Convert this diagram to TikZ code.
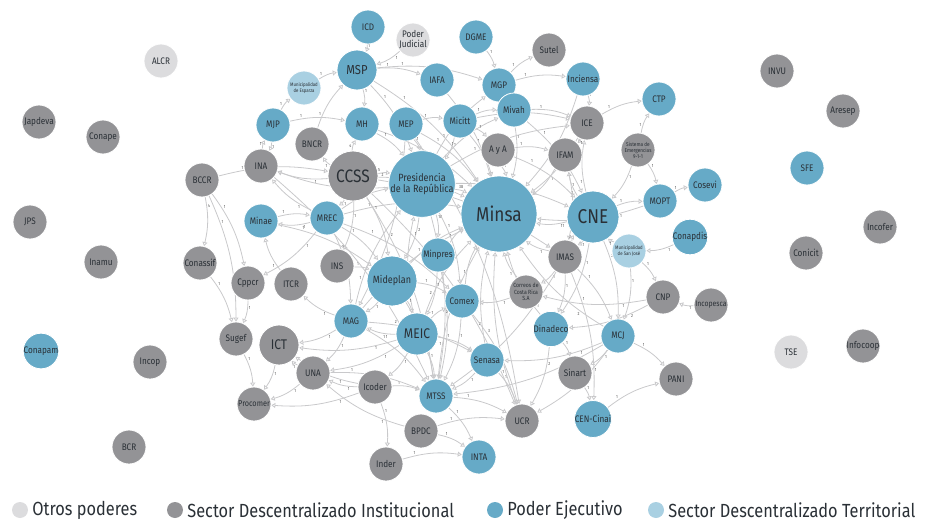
\documentclass[tikz,border=0pt]{standalone}
\usepackage{fontspec}
\setmainfont{Fira Sans}[FakeStretch=0.86]
\usepackage{xcolor}
\usetikzlibrary{arrows.meta}
\usetikzlibrary{positioning}
\usetikzlibrary{backgrounds}

\definecolor{ejecblue}{HTML}{66AAC7}
\definecolor{descgray}{HTML}{939396}
\definecolor{otrosgray}{HTML}{DCDCDE}
\definecolor{terrblue}{HTML}{A9D0E2}
\definecolor{nodetext}{HTML}{2A3036}
\definecolor{linkgray}{HTML}{C9C9CB}
\definecolor{wtgray}{HTML}{505050}

\begin{document}
\begin{tikzpicture}[x=1pt,y=-1pt]
	%\draw[help lines,step=50] (0,0) grid (938,522);
	\useasboundingbox (0,0) rectangle (938,522);

	\tikzstyle{org} = [circle,inner sep=0pt,minimum size=34pt,draw=white,line width=0.8pt,text=nodetext,font=\fontsize{9.5}{10}\selectfont,align=center]
	\tikzstyle{ejec} = [org,fill=ejecblue]
	\tikzstyle{desc} = [org,fill=descgray]
	\tikzstyle{otros} = [org,fill=otrosgray]
	\tikzstyle{terr} = [org,fill=terrblue]
	\tikzstyle{tiny} = [font=\fontsize{5}{5.5}\selectfont]
	\tikzstyle{lnk} = [-{Triangle[open,length=4pt,width=5pt]},draw=linkgray,line width=0.8pt,bend left=12]
	\tikzstyle{wt} = [font=\fontsize{4.5}{5}\selectfont,text=wtgray,inner sep=0.6pt,pos=0.22,auto]
	\tikzstyle{lgdot} = [circle,inner sep=0pt,minimum size=16pt]
	\tikzstyle{lgtext} = [font=\fontsize{19}{21}\selectfont,text=nodetext,inner sep=0pt]

	% isolated organisations, left
	\node[otros] (alcr) at (161,61) {ALCR};
	\node[desc] (japdeva) at (39,122) {Japdeva};
	\node[desc] (conape) at (103,137) {Conape};
	\node[desc] (jps) at (30,222) {JPS};
	\node[desc] (inamu) at (101,262) {Inamu};
	\node[ejec] (conapam) at (41,351) {Conapam};
	\node[desc] (incop) at (150,362) {Incop};
	\node[desc] (bcr) at (129,447) {BCR};

	% isolated organisations, right
	\node[desc] (invu) at (777,71) {INVU};
	\node[desc] (aresep) at (843,111) {Aresep};
	\node[ejec] (sfe) at (807,168) {SFE};
	\node[desc] (incofer) at (880,227) {Incofer};
	\node[desc] (conicit) at (806,253) {Conicit};
	\node[otros] (tse) at (791,352) {TSE};
	\node[desc] (infocoop) at (863,346) {Infocoop};

	% network
	\node[ejec] (icd) at (368,27) {ICD};
	\node[otros] (pj) at (413,40) {Poder\\Judicial};
	\node[ejec] (dgme) at (476,37) {DGME};
	\node[desc] (sutel) at (549,50) {Sutel};
	\node[ejec,minimum size=40pt,font=\fontsize{13}{14}\selectfont] (msp) at (357,70) {MSP};
	\node[terr,tiny] (esparza) at (304,88) {Municipalidad\\de Esparza};
	\node[ejec] (iafa) at (437,80) {IAFA};
	\node[ejec] (mgp) at (499,85) {MGP};
	\node[ejec] (inciensa) at (583,79) {Inciensa};
	\node[ejec] (ctp) at (659,99) {CTP};
	\node[ejec] (mjp) at (273,125) {MJP};
	\node[ejec] (mh) at (362,124) {MH};
	\node[ejec] (mep) at (406,124) {MEP};
	\node[ejec] (micitt) at (460,121) {Micitt};
	\node[ejec] (mivah) at (514,110) {Mivah};
	\node[desc] (ice) at (587,123) {ICE};
	\node[desc] (bncr) at (312,144) {BNCR};
	\node[desc] (aya) at (498,150) {A y A};
	\node[desc] (ifam) at (565,155) {IFAM};
	\node[desc,font=\fontsize{5.5}{6}\selectfont] (sis) at (638,150) {Sistema de\\Emergencias\\9-1-1};
	\node[desc] (ina) at (261,166) {INA};
	\node[desc] (bccr) at (202,180) {BCCR};
	\node[desc,minimum size=50pt,font=\fontsize{18}{20}\selectfont] (ccss) at (353,176) {CCSS};
	\node[ejec,minimum size=66pt,font=\fontsize{10.5}{11}\selectfont] (pres) at (422,184) {Presidencia\\de la República};
	\node[ejec,minimum size=76pt,font=\fontsize{20}{22}\selectfont] (minsa) at (499,214) {Minsa};
	\node[ejec,minimum size=52pt,font=\fontsize{20}{22}\selectfont] (cne) at (593,217) {CNE};
	\node[ejec] (cosevi) at (705,185) {Cosevi};
	\node[ejec] (mopt) at (660,201) {MOPT};
	\node[ejec] (conapdis) at (690,237) {Conapdis};
	\node[terr,tiny] (sanjose) at (629,251) {Municipalidad\\de San José};
	\node[ejec] (minae) at (261,221) {Minae};
	\node[ejec] (mrec) at (327,218) {MREC};
	\node[ejec] (minpres) at (438,255) {Minpres};
	\node[desc] (imas) at (565,257) {IMAS};
	\node[desc] (conassif) at (200,263) {Conassif};
	\node[desc] (ins) at (337,266) {INS};
	\node[ejec,minimum size=50pt,font=\fontsize{10.5}{11}\selectfont] (mideplan) at (392,281) {Mideplan};
	\node[desc] (cppcr) at (248,283) {Cppcr};
	\node[desc] (itcr) at (291,284) {ITCR};
	\node[ejec] (comex) at (462,301) {Comex};
	\node[desc,font=\fontsize{6}{6.5}\selectfont] (correos) at (526,292) {Correos de\\Costa Rica\\S.A};
	\node[desc] (cnp) at (663,297) {CNP};
	\node[desc,font=\fontsize{8}{9}\selectfont] (incopesca) at (711,305) {Incopesca};
	\node[ejec] (mag) at (351,321) {MAG};
	\node[ejec,minimum size=42pt,font=\fontsize{14}{15}\selectfont] (meic) at (417,334) {MEIC};
	\node[ejec] (dinadeco) at (551,329) {Dinadeco};
	\node[ejec] (mcj) at (618,336) {MCJ};
	\node[desc] (sugef) at (236,339) {Sugef};
	\node[desc,minimum size=40pt,font=\fontsize{14}{15}\selectfont] (ict) at (279,345) {ICT};
	\node[ejec] (senasa) at (487,360) {Senasa};
	\node[desc] (sinart) at (575,373) {Sinart};
	\node[desc] (pani) at (676,379) {PANI};
	\node[desc] (una) at (313,373) {UNA};
	\node[desc] (icoder) at (375,387) {Icoder};
	\node[desc,font=\fontsize{8.5}{9}\selectfont] (procomer) at (254,404) {Procomer};
	\node[ejec] (mtss) at (436,396) {MTSS};
	\node[desc] (ucr) at (522,421) {UCR};
	\node[ejec] (cencinai) at (593,419) {CEN-Cinai};
	\node[desc] (bpdc) at (421,431) {BPDC};
	\node[desc] (inder) at (386,464) {Inder};
	\node[ejec] (inta) at (479,457) {INTA};

	% links between organisations
	\begin{pgfonlayer}{background}
	\foreach \a/\b/\w in {
		icd/msp/1, pj/msp/1, esparza/msp/1, mjp/esparza/1, dgme/mgp/1,
		mgp/sutel/1, mgp/inciensa/1, inciensa/ice/1, ice/ctp/1, sis/ctp/1,
		sis/mopt/1, sis/cne/1, mopt/cosevi/1, conapdis/sanjose/1, sanjose/cne/1,
		sanjose/cnp/1, incopesca/cnp/1, cnp/correos/1, cnp/dinadeco/2, mcj/sinart/1,
		mcj/pani/1, cencinai/pani/1, sinart/cencinai/1, dinadeco/sinart/1, mcj/senasa/1,
		mcj/mtss/1, senasa/ucr/1, mtss/ucr/1, mtss/inta/1, bpdc/inta/1,
		bpdc/una/1, icoder/procomer/1, una/procomer/1, ict/procomer/1, sugef/procomer/1,
		cppcr/sugef/1, bccr/conassif/4, bccr/sugef/1, bccr/cppcr/1, conassif/sugef/1,
		mjp/ina/1, ina/mjp/1, mjp/mh/1, msp/mh/1, bncr/msp/1,
		minae/mrec/1, mrec/minae/1, mrec/cppcr/1, mrec/ina/1, itcr/minae/1,
		una/ict/1, icoder/ict/1, mag/ict/1, mag/itcr/1, meic/ict/1,
		mag/una/1, meic/una/1, icoder/una/1, icoder/inder/1, bpdc/ucr/1,
		inder/inta/1, icoder/mtss/1, una/mtss/1,
		pres/minsa/38, cne/minsa/11, mideplan/minsa/1, imas/minsa/1,
		mep/minsa/1, micitt/minsa/1, mivah/minsa/1, ice/minsa/1, ifam/minsa/1,
		aya/minsa/1, comex/minsa/1, correos/minsa/1, meic/minsa/2, mtss/minsa/1,
		mag/minsa/1, minpres/minsa/1, mrec/minsa/1, mh/minsa/1, msp/minsa/1,
		inciensa/minsa/1, iafa/minsa/1, dinadeco/minsa/1, mcj/minsa/2, senasa/minsa/2,
		ucr/minsa/1, mopt/minsa/1,
		cne/mopt/1, cne/ice/1, cne/ifam/2, imas/cne/2, cne/mcj/2,
		cne/dinadeco/1, mivah/cne/1, aya/cne/1, pres/cne/2, cne/imas/1,
		pres/mideplan/2, pres/minpres/18, ccss/pres/5, mh/pres/1, mep/pres/1,
		msp/pres/1, mrec/pres/2, micitt/pres/1, mag/pres/1, meic/pres/1,
		pres/mivah/1, pres/mgp/1, pres/ice/1, pres/comex/1,
		mideplan/meic/1, mideplan/mag/1, mideplan/mtss/1, mideplan/comex/1, ins/mideplan/1,
		mrec/mideplan/1, ccss/mideplan/1,
		meic/mag/1, meic/mtss/1, meic/comex/1, meic/senasa/1, meic/icoder/1,
		mag/senasa/2, mag/mtss/1, comex/mtss/1, comex/ucr/3, senasa/mtss/1,
		ccss/mtss/2, ccss/mrec/1, ccss/ina/1, ccss/mh/4, ccss/bncr/1,
		ccss/ins/1, ccss/imas/1, ccss/ucr/1,
		msp/mgp/1, msp/iafa/1, mep/micitt/1, micitt/mivah/1, micitt/ice/1,
		mgp/mivah/1, mivah/ice/1, micitt/aya/1, mep/mag/1, mep/ucr/1,
		ice/ifam/1, aya/ifam/1, ifam/imas/1, imas/correos/1, imas/mcj/1,
		imas/dinadeco/1, imas/mtss/1, imas/cencinai/1, correos/comex/1, minpres/mtss/1,
		minpres/meic/1, mrec/mag/1, mrec/comex/1, ina/mtss/1, minae/mideplan/1,
		bccr/ccss/1, sanjose/mcj/1, mcj/ucr/1, dinadeco/ucr/2, pres/ina/1}
	{
		\draw (\a) edge [lnk] node[wt] {\w} (\b);
	}
	% these two pass behind other nodes: weight moved off them
	\draw (ccss) edge [lnk] node[wt,pos=0.04] {2} (minsa);
	\draw (pres) edge [lnk] node[wt,pos=0.6] {2} (mtss);
	\end{pgfonlayer}

	% legend
	\node[lgdot,fill=otrosgray] (lgotros) at (20,510) {};
	\node[lgtext,right=4pt of lgotros] (txotros) {Otros poderes};
	\node[lgdot,fill=descgray] (lgdesc) at (175,510) {};
	\node[lgtext,right=4pt of lgdesc] (txdesc) {Sector Descentralizado Institucional};
	\node[lgdot,fill=ejecblue] (lgejec) at (495,510) {};
	\node[lgtext,right=4pt of lgejec] (txejec) {Poder Ejecutivo};
	\node[lgdot,fill=terrblue] (lgterr) at (656,510) {};
	\node[lgtext,right=4pt of lgterr] (txterr) {Sector Descentralizado Territorial};

\end{tikzpicture}
\end{document}
